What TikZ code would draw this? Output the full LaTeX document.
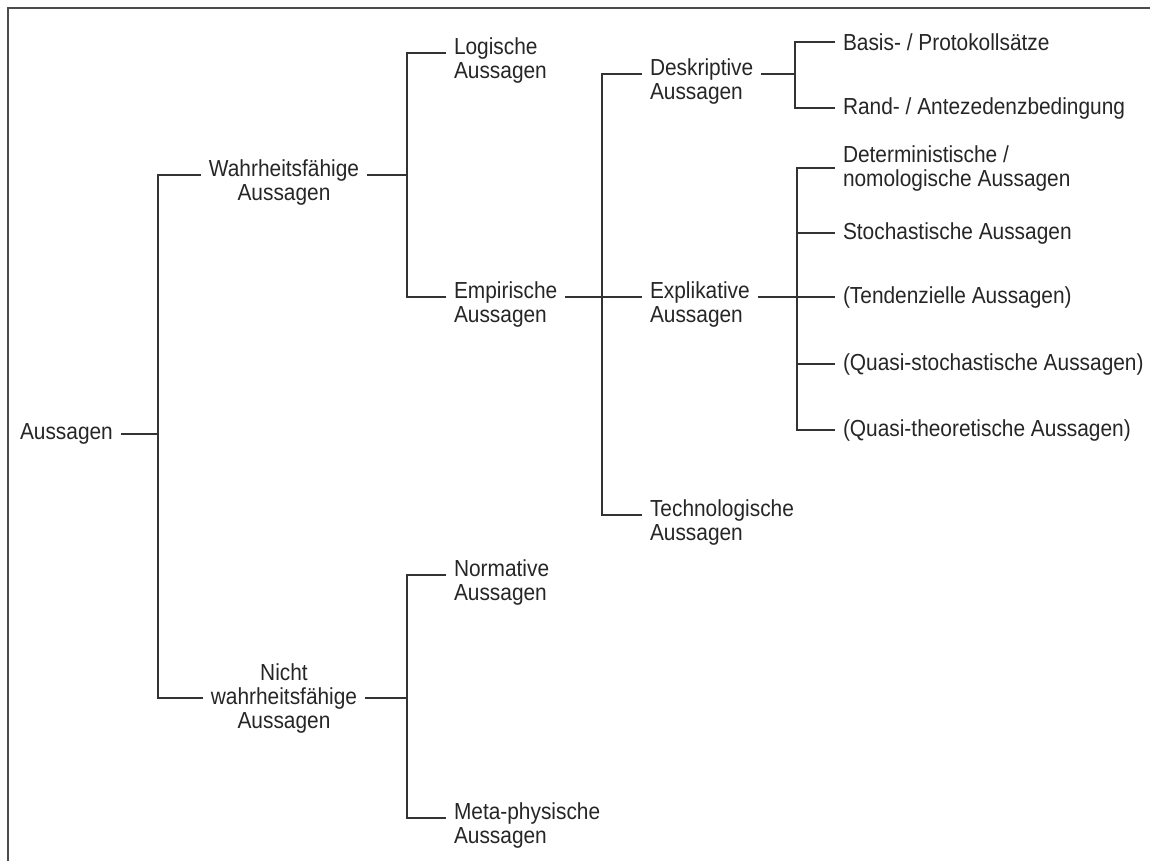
\documentclass[tikz,border=0pt]{standalone}
\usepackage{fontspec}
\setmainfont[FakeStretch=0.9]{Liberation Sans}
\usepackage{tikz}
\usetikzlibrary{positioning}

\begin{document}
\begin{tikzpicture}[x=0.75pt, y=-0.75pt,
  lbl/.style={font=\fontsize{17.4}{18}\selectfont, text=black!85, inner sep=0pt, outer xsep=6pt, align=left},
  duo/.style={lbl, text height=42.5pt},
  link/.style={draw=black!80, line width=1.1pt}]
  \useasboundingbox (0,0) rectangle (1150,861);
  % frame (only top and left edge visible)
  \draw[black!70, line width=1.4pt] (8,861) -- (8,8) -- (1150,8);

  % root and first level
  \node[lbl, anchor=west] (root) at (12,434) {Aussagen};
  \node[duo, align=center] (wf) at (284,175) {Wahrheitsfähige\\Aussagen};
  \node[lbl, align=center] (nwf) at (284,698) {Nicht\\wahrheitsfähige\\Aussagen};

  % second level
  \node[duo, anchor=west] (log) at (446,53) {Logische\\Aussagen};
  \node[duo, anchor=west] (emp) at (446,297) {Empirische\\Aussagen};
  \node[duo, anchor=west] (norm) at (446,575) {Normative\\Aussagen};
  \node[duo, anchor=west] (meta) at (446,818) {Meta-physische\\Aussagen};

  % third level
  \node[duo, anchor=west] (desk) at (642,74) {Deskriptive\\Aussagen};
  \node[duo, anchor=west] (expl) at (642,297) {Explikative\\Aussagen};
  \node[duo, anchor=west] (tech) at (642,515) {Technologische\\Aussagen};

  % leaves
  \node[lbl, anchor=west] (basis) at (835,42) {Basis- / Protokollsätze};
  \node[lbl, anchor=west] (rand) at (835,108) {Rand- / Antezedenzbedingung};
  \node[lbl, anchor=west] (det) at (835,168) {Deterministische /\\nomologische Aussagen};
  \node[lbl, anchor=west] (stoch) at (835,233) {Stochastische Aussagen};
  \node[lbl, anchor=west] (tend) at (835,297) {(Tendenzielle Aussagen)};
  \node[lbl, anchor=west] (qstoch) at (835,364) {(Quasi-stochastische Aussagen)};
  \node[lbl, anchor=west] (qtheo) at (835,430) {(Quasi-theoretische Aussagen)};

  % junctions of the brackets
  \coordinate (j0) at (158,434);
  \coordinate (j1) at (407,175);
  \coordinate (j2) at (407,698);
  \coordinate (j3) at (602,297);
  \coordinate (j4) at (795,74);
  \coordinate (j5) at (797,297);

  % brackets
  \draw[link] (root.east) -- (j0);
  \draw[link] (j0) |- (wf.west);
  \draw[link] (j0) |- (nwf.west);

  \draw[link] (wf.east) -- (j1);
  \draw[link] (j1) |- (log.west);
  \draw[link] (j1) |- (emp.west);

  \draw[link] (nwf.east) -- (j2);
  \draw[link] (j2) |- (norm.west);
  \draw[link] (j2) |- (meta.west);

  \draw[link] (emp.east) -- (expl.west);
  \draw[link] (j3) |- (desk.west);
  \draw[link] (j3) |- (tech.west);

  \draw[link] (desk.east) -- (j4);
  \draw[link] (j4) |- (basis.west);
  \draw[link] (j4) |- (rand.west);

  \draw[link] (expl.east) -- (tend.west);
  \draw[link] (j5) |- (det.west);
  \draw[link] (j5) |- (stoch.west);
  \draw[link] (j5) |- (qstoch.west);
  \draw[link] (j5) |- (qtheo.west);
\end{tikzpicture}
\end{document}
